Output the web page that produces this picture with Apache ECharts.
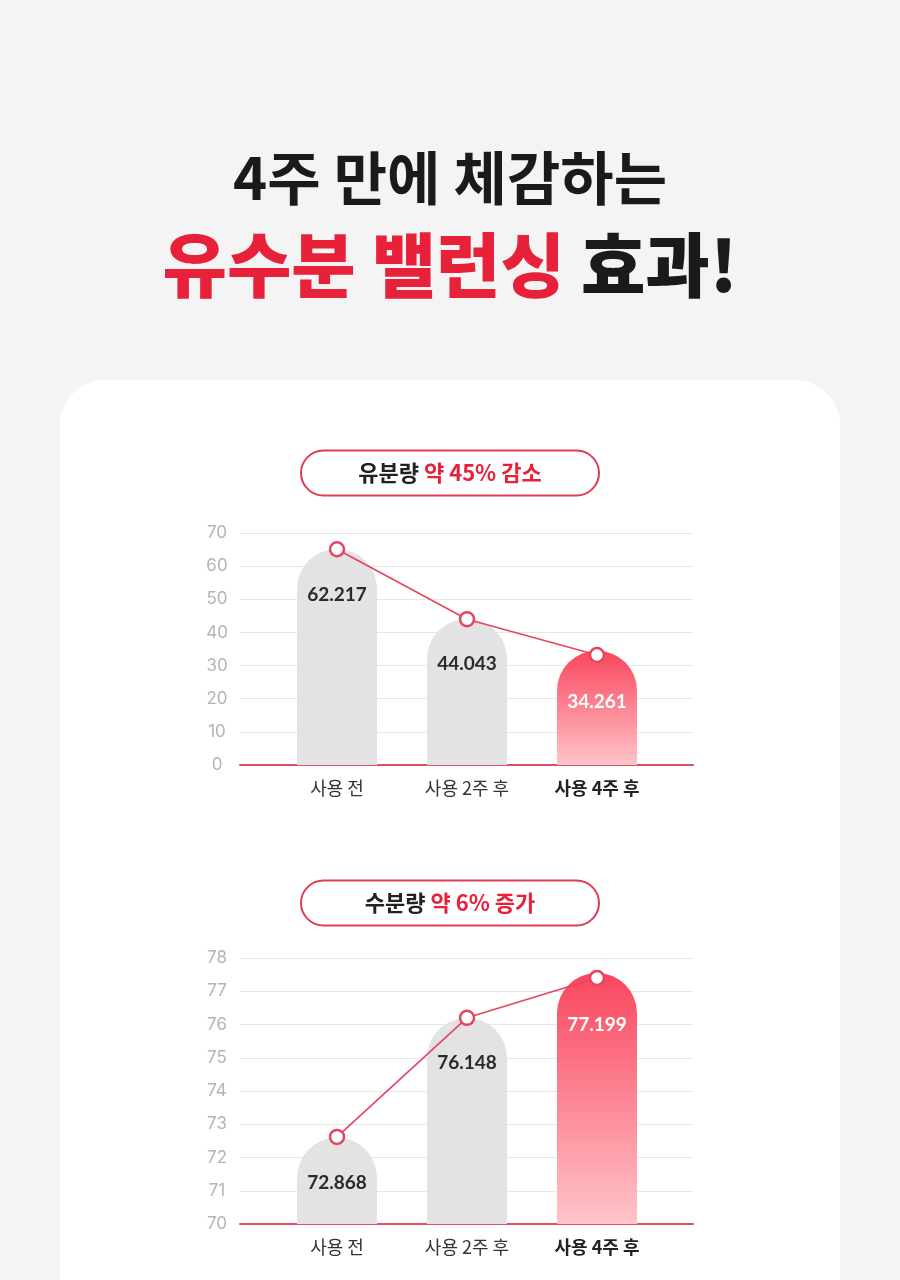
<!DOCTYPE html>
<html>
<head>
<meta charset="utf-8">
<script src="https://cdn.jsdelivr.net/npm/echarts@6/dist/echarts.min.js"></script>
<style>
  html, body { margin: 0; padding: 0; background: #f4f4f4; }
  #main { width: 900px; height: 1280px; }
</style>
</head>
<body>
<div id="main"></div>
<script>
// 카테고리
const categories = ['사용 전', '사용 2주 후', '사용 4주 후'];

// 유분량 (차트 1)
const oilBars = [65.2, 44.1, 34.5];
const oilPoints = [65.1, 44.0, 33.2];
const oilLabels = ['62.217', '44.043', '34.261'];
const oilTicks = { min: 0, max: 70, interval: 10 };

// 수분량 (차트 2)
const waterBars = [72.6, 76.2, 77.55];
const waterPoints = [72.62, 76.2, 77.4];
const waterLabels = ['72.868', '76.148', '77.199'];
const waterTicks = { min: 70, max: 78, interval: 1 };

const RED = '#e6455f';
const GRAY_BAR = '#e3e3e3';
const CJK = '"Noto Sans CJK KR", "Noto Sans", sans-serif';

const chart = echarts.init(document.getElementById('main'));

const redGradient = new echarts.graphic.LinearGradient(0, 0, 0, 1, [
  { offset: 0, color: '#f9465d' },
  { offset: 1, color: '#ffc4ca' }
]);

// 차트 하나당 grid 2개: 축/격자용 + 막대용
const makeGrids = (top, bottom) => [
  { left: 240, right: 207, top: top, bottom: bottom },
  { left: 272, right: 238, top: top, bottom: bottom }
];

const makeAxes = (gi, ticks) => {
  const xAxis = [
    {
      gridIndex: gi, type: 'value', min: 0, max: 1,
      axisLine: { show: true, onZero: false, lineStyle: { color: '#e05068', width: 2 } },
      axisTick: { show: false }, axisLabel: { show: false }, splitLine: { show: false }
    },
    {
      gridIndex: gi + 1, type: 'category', data: categories,
      axisLine: { show: false }, axisTick: { show: false },
      axisLabel: {
        interval: 0, margin: 14,
        fontFamily: CJK, fontSize: 18, color: '#333',
        formatter: (v, i) => (i === 2 ? '{b|' + v + '}' : v),
        rich: { b: { fontFamily: CJK, fontSize: 18, fontWeight: 'bold', color: '#222' } }
      }
    }
  ];
  const yAxis = [
    {
      gridIndex: gi, type: 'value', min: ticks.min, max: ticks.max, interval: ticks.interval,
      axisLine: { show: false }, axisTick: { show: false },
      axisLabel: { margin: 23, align: 'center', fontFamily: 'Inter, sans-serif', fontSize: 17, color: '#b4b4b4' },
      splitLine: { lineStyle: { color: '#e6e6e6', width: 1 } }
    },
    {
      gridIndex: gi + 1, type: 'value', min: ticks.min, max: ticks.max, show: false
    }
  ];
  return { xAxis, yAxis };
};

const makeSeries = (ai, bars, points, labels) => [
  {
    type: 'bar',
    xAxisIndex: ai, yAxisIndex: ai,
    barWidth: 80,
    data: bars.map((v, i) => ({
      value: v,
      itemStyle: { color: i === 2 ? redGradient : GRAY_BAR, borderRadius: [40, 40, 0, 0] },
      label: { color: i === 2 ? '#fff' : '#2b2b2b', distance: i === 2 ? 42 : 36 }
    })),
    label: {
      show: true, position: 'insideTop', distance: 36,
      fontFamily: 'Lato, sans-serif', fontWeight: 'bold', fontSize: 19,
      formatter: p => labels[p.dataIndex]
    },
    z: 2
  },
  {
    type: 'line',
    xAxisIndex: ai, yAxisIndex: ai,
    data: points,
    symbol: 'circle', symbolSize: 14,
    lineStyle: { color: RED, width: 1.6 },
    itemStyle: { color: '#fff', borderColor: RED, borderWidth: 2.5 },
    z: 5
  }
];

const a1 = makeAxes(0, oilTicks);
const a2 = makeAxes(2, waterTicks);

const pill = (cy, black, red) => ([
  {
    type: 'rect', z: 1,
    shape: { x: 301, y: cy - 22.5, width: 298, height: 45, r: 22.5 },
    style: { fill: '#fff', stroke: '#e13a55', lineWidth: 2 }
  },
  {
    type: 'text', z: 2, x: 450, y: cy,
    style: {
      text: '{k|' + black + ' }{r|' + red + '}',
      align: 'center', verticalAlign: 'middle',
      rich: {
        k: { fontFamily: CJK, fontSize: 22, fontWeight: 'bold', fill: '#222' },
        r: { fontFamily: CJK, fontSize: 22, fontWeight: 'bold', fill: '#e8213a' }
      }
    }
  }
]);

const option = {
  animation: false,
  grid: [...makeGrids(533, 515), ...makeGrids(958, 56)],
  xAxis: [...a1.xAxis, ...a2.xAxis],
  yAxis: [...a1.yAxis, ...a2.yAxis],
  series: [
    ...makeSeries(1, oilBars, oilPoints, oilLabels),
    ...makeSeries(3, waterBars, waterPoints, waterLabels)
  ],
  graphic: [
    {
      type: 'rect', z: -10,
      shape: { x: 60, y: 380, width: 780, height: 1000, r: 45 },
      style: { fill: '#fff' }
    },
    {
      type: 'text', x: 450, y: 178,
      style: {
        text: '4주 만에 체감하는',
        align: 'center', verticalAlign: 'middle',
        fontFamily: CJK, fontSize: 58, fontWeight: 'bold', fill: '#1a1a1a'
      }
    },
    {
      type: 'text', x: 450, y: 265,
      style: {
        text: '{r|유수분 밸런싱 }{k|효과!}',
        align: 'center', verticalAlign: 'middle',
        rich: {
          r: { fontFamily: CJK, fontSize: 70, fontWeight: 900, fill: '#e8213a' },
          k: { fontFamily: CJK, fontSize: 70, fontWeight: 900, fill: '#1a1a1a' }
        }
      }
    },
    ...pill(473, '유분량', '약 45% 감소'),
    ...pill(903, '수분량', '약 6% 증가')
  ]
};

chart.setOption(option);
</script>
</body>
</html>
